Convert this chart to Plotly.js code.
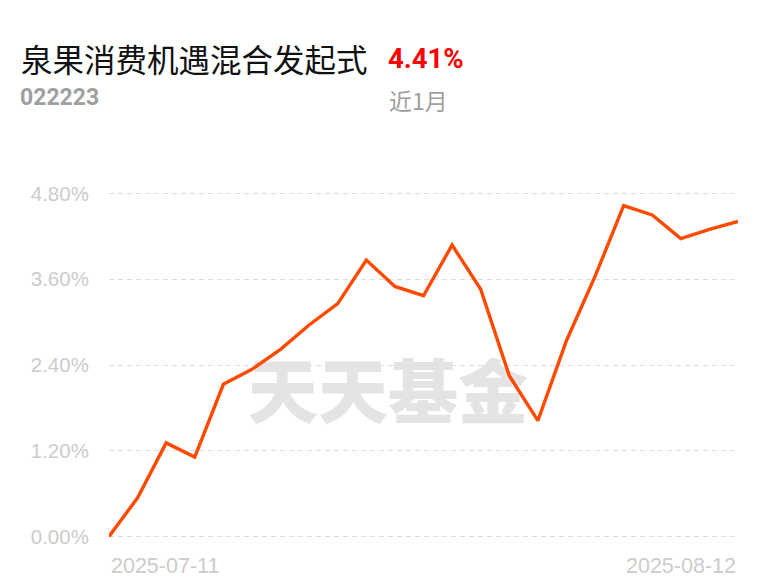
<!DOCTYPE html>
<html><head><meta charset="utf-8">
<script src="https://cdn.plot.ly/plotly-3.0.1.min.js"></script>
<style>html,body{margin:0;padding:0;background:#fff}#c{width:768px;height:587px}</style>
</head><body><div id="c"></div>
<script>
const dates = ["2025-07-11","2025-07-14","2025-07-15","2025-07-16","2025-07-17","2025-07-18","2025-07-21","2025-07-22","2025-07-23","2025-07-24","2025-07-25","2025-07-28","2025-07-29","2025-07-30","2025-07-31","2025-08-01","2025-08-04","2025-08-05","2025-08-06","2025-08-07","2025-08-08","2025-08-11","2025-08-12"];
const returns = [0.00,0.54,1.31,1.11,2.13,2.34,2.62,2.96,3.26,3.87,3.50,3.37,4.08,3.46,2.25,1.62,2.74,3.64,4.63,4.50,4.17,4.30,4.41];
const yTicks = [0,1.2,2.4,3.6,4.8];
const yTickText = ["0.00%","1.20%","2.40%","3.60%","4.80%"];
const fundName = "泉果消费机遇混合发起式";
const fundCode = "022223";
const periodReturn = "4.41%";
const periodLabel = "近1月";
const watermark = "天天基金";

const L=109, R=738, T=190, B=540;
const px = v => (v-L)/(R-L);
const py = v => (B-v)/(B-T);

const svg = '<svg xmlns="http://www.w3.org/2000/svg" width="300" height="70"><text x="150" y="60" text-anchor="middle" font-family="Noto Sans CJK SC" font-weight="900" font-size="70" fill="#e4e4e4" textLength="290" lengthAdjust="spacingAndGlyphs">'+watermark+'</text></svg>';
const wm = 'data:image/svg+xml;charset=utf-8,'+encodeURIComponent(svg);

const trace = {x: dates, y: returns, type:'scatter', mode:'lines',
  line:{color:'#ff4a00', width:3.4}, cliponaxis:false, hoverinfo:'skip'};

const layout = {
  width:768, height:587, paper_bgcolor:'#fff', plot_bgcolor:'rgba(0,0,0,0)',
  margin:{l:L, r:768-R, t:T, b:587-B, pad:0},
  showlegend:false,
  xaxis:{type:'category', range:[0,dates.length-1], showgrid:false, zeroline:false,
    showline:false, showticklabels:false, ticks:''},
  yaxis:{range:[-0.05,4.85], tickvals:yTicks, ticktext:yTickText, showgrid:true,
    gridcolor:'#dedede', gridwidth:1, griddash:'5px,4px', zeroline:false, showline:false,
    ticks:'outside', ticklen:15, tickcolor:'rgba(0,0,0,0)',
    tickfont:{family:'Liberation Sans, Arial', size:20.5, color:'#cccccc'}},
  images:[{source:wm, xref:'paper', yref:'paper', x:px(243), y:py(358), sizex:290/(R-L), sizey:70/(B-T),
    xanchor:'left', yanchor:'top', sizing:'stretch', layer:'below'}],
  annotations:[
    {text:fundName, xref:'paper', yref:'paper', x:px(19), y:py(58), xanchor:'left', yanchor:'middle', showarrow:false,
     font:{family:'Noto Sans CJK SC', size:31.5, color:'#111'}},
    {text:'<b>'+periodReturn+'</b>', xref:'paper', yref:'paper', x:px(386), y:py(59), xanchor:'left', yanchor:'middle', showarrow:false,
     font:{family:'Roboto, Liberation Sans', size:27.5, color:'#ff0000'}},
    {text:'<b>'+fundCode+'</b>', xref:'paper', yref:'paper', x:px(18), y:py(98), xanchor:'left', yanchor:'middle', showarrow:false,
     font:{family:'Roboto, Liberation Sans', size:23, color:'#9f9f9f'}},
    {text:periodLabel, xref:'paper', yref:'paper', x:px(387), y:py(100), xanchor:'left', yanchor:'middle', showarrow:false,
     font:{family:'Noto Sans CJK SC', size:23, color:'#9f9f9f'}},
    {text:dates[0], xref:'x', yref:'paper', x:dates[0], y:py(566), xanchor:'left', yanchor:'middle', showarrow:false,
     font:{family:'Liberation Sans, Arial', size:21.5, color:'#cccccc'}},
    {text:dates[dates.length-1], xref:'x', yref:'paper', x:dates[dates.length-1], y:py(566), xanchor:'right', yanchor:'middle', showarrow:false,
     font:{family:'Liberation Sans, Arial', size:21.5, color:'#cccccc'}}
  ]
};
Plotly.newPlot('c',[trace],layout,{displayModeBar:false,staticPlot:true});
</script></body></html>
